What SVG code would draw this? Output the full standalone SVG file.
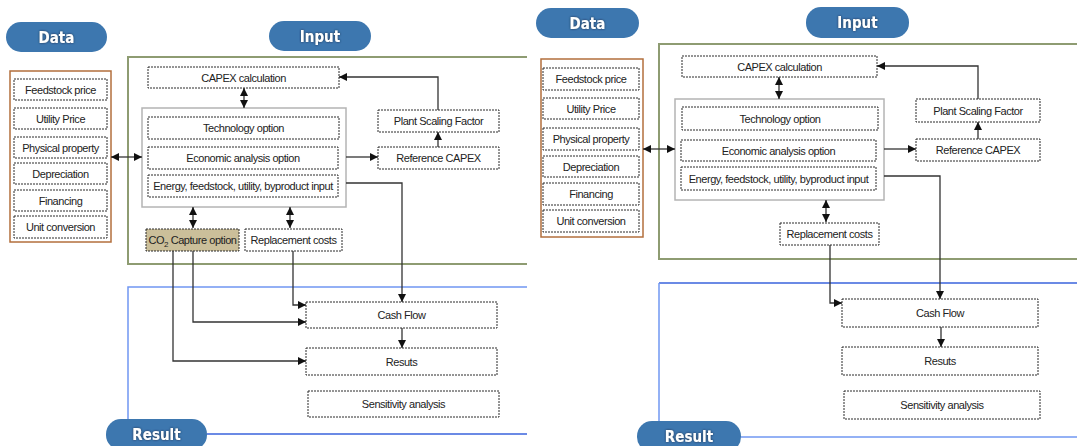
<svg xmlns="http://www.w3.org/2000/svg" width="1077" height="446" viewBox="0 0 1077 446">
<defs>
<marker id="ah" markerUnits="userSpaceOnUse" markerWidth="8" markerHeight="8" refX="8" refY="4" orient="auto-start-reverse" viewBox="0 0 8 8">
<path d="M0,0 L8,4 L0,8 z" fill="#111"/>
</marker>
<filter id="ts" x="-20%" y="-30%" width="140%" height="160%">
<feDropShadow dx="0" dy="0" stdDeviation="0.8" flood-color="#1a2a40" flood-opacity="0.9"/>
</filter>
</defs>
<style>
.pill{fill:#3d77af;}
.ptxt{font-family:"DejaVu Sans Condensed","DejaVu Sans","Liberation Sans",sans-serif;font-weight:bold;font-size:15px;fill:#fff;text-anchor:middle;}
.box{fill:#fff;stroke:#2a2a2a;stroke-width:1;stroke-dasharray:2 1;}
.co2{fill:#cbbf9a;stroke:#2a2a2a;stroke-width:1;stroke-dasharray:2 1;}
.inner{fill:#fff;stroke:#b4b4b4;stroke-width:1.5;}
.orange{fill:#fff;stroke:#b36f3c;stroke-width:1.5;}
.green{fill:none;stroke:#8e9c72;stroke-width:2;}
.blue1{fill:none;stroke:#7097f2;stroke-width:1.5;}
.blue2{fill:none;stroke:#3a63dc;stroke-width:1.5;}
.t{font-family:"Liberation Sans",Arial,sans-serif;font-size:11px;fill:#222;text-anchor:middle;letter-spacing:-0.45px;}
.c{fill:none;stroke:#333;stroke-width:1.3;}
.ca{fill:none;stroke:#333;stroke-width:1.3;marker-end:url(#ah);}
.cd{fill:none;stroke:#333;stroke-width:1.3;marker-start:url(#ah);marker-end:url(#ah);}
</style>
<rect width="1077" height="446" fill="#fff"/>

<!-- ===== LEFT PANEL ===== -->
<g id="L-frames">
<path class="green" d="M527,57 H128 V264 H527"/>
<path class="blue1" d="M527,287 H128 V419"/>
<path class="blue2" d="M207,434 H527"/>
</g>
<g id="L-pill-data"><rect class="pill" x="6" y="22" width="101" height="30" rx="15"/><text class="ptxt" x="56.5" y="42.5" filter="url(#ts)">Data</text></g>
<g id="L-pill-input"><rect class="pill" x="269" y="21" width="102" height="30" rx="15"/><text class="ptxt" x="320" y="41.5" filter="url(#ts)">Input</text></g>
<g id="L-pill-result"><rect class="pill" x="106" y="419" width="101" height="31" rx="15"/><text class="ptxt" x="156.5" y="440" filter="url(#ts)">Result</text></g>

<g id="L-data">
<rect class="orange" x="10" y="71" width="101" height="171"/>
<g id="L-feed"><rect class="box" x="14" y="79" width="93" height="21"/><text class="t" x="60.5" y="93.5">Feedstock price</text></g>
<g id="L-util"><rect class="box" x="14" y="108" width="93" height="21"/><text class="t" x="60.5" y="122.5">Utility Price</text></g>
<g id="L-phys"><rect class="box" x="14" y="137" width="93" height="21"/><text class="t" x="60.5" y="151.5">Physical property</text></g>
<g id="L-depr"><rect class="box" x="14" y="163" width="93" height="21"/><text class="t" x="60.5" y="177.5">Depreciation</text></g>
<g id="L-fin"><rect class="box" x="14" y="190" width="93" height="21"/><text class="t" x="60.5" y="204.5">Financing</text></g>
<g id="L-unit"><rect class="box" x="14" y="216" width="93" height="22"/><text class="t" x="60.5" y="231">Unit conversion</text></g>
</g>

<g id="L-capex"><rect class="box" x="148" y="67" width="191" height="21"/><text class="t" x="243.5" y="81.5">CAPEX calculation</text></g>
<g id="L-options">
<rect class="inner" x="142" y="108" width="204" height="99"/>
<g id="L-tech"><rect class="box" x="148" y="117" width="191" height="22"/><text class="t" x="243.5" y="132">Technology option</text></g>
<g id="L-econ"><rect class="box" x="148" y="147" width="190" height="22"/><text class="t" x="243" y="162">Economic analysis option</text></g>
<g id="L-energy"><rect class="box" x="148" y="175" width="190" height="22"/><text class="t" x="243" y="190">Energy, feedstock, utility, byproduct  input</text></g>
</g>
<g id="L-psf"><rect class="box" x="378" y="110" width="121" height="22"/><text class="t" x="438.5" y="125">Plant Scaling Factor</text></g>
<g id="L-ref"><rect class="box" x="378" y="147" width="121" height="22"/><text class="t" x="438.5" y="162">Reference CAPEX</text></g>
<g id="L-co2"><rect class="co2" x="146" y="229" width="93" height="22"/><text class="t" x="192.5" y="244">CO<tspan font-size="8" dy="2.5">2</tspan><tspan dy="-2.5"> Capture option</tspan></text></g>
<g id="L-repl"><rect class="box" x="245" y="229" width="97" height="22"/><text class="t" x="293.5" y="244">Replacement costs</text></g>
<g id="L-cash"><rect class="box" x="306" y="302" width="191" height="26"/><text class="t" x="401.5" y="319">Cash Flow</text></g>
<g id="L-res"><rect class="box" x="306" y="348" width="191" height="27"/><text class="t" x="401.5" y="365.5">Resuts</text></g>
<g id="L-sens"><rect class="box" x="308" y="391" width="191" height="26"/><text class="t" x="403.5" y="408">Sensitivity analysis</text></g>

<g id="L-connectors">
<path class="cd" d="M111,157 H142"/>
<path class="cd" d="M244,88 V108"/>
<path class="ca" d="M346,157 H378"/>
<path class="ca" d="M438,147 V132"/>
<path class="ca" d="M438,110 V77 H339"/>
<path class="ca" d="M346,183 H402 V302"/>
<path class="cd" d="M193,207 V228"/>
<path class="cd" d="M290,207 V228"/>
<path class="ca" d="M293,251 V305 H306"/>
<path class="ca" d="M193,251 V322 H306"/>
<path class="ca" d="M173,251 V361 H306"/>
<path class="ca" d="M402,328 V348"/>
</g>

<!-- ===== RIGHT PANEL ===== -->
<g id="R-frames">
<path class="green" d="M1077,44 H659 V259 H1077"/>
<path class="blue2" d="M1077,283 H659"/>
<path class="blue1" d="M659,283 V421"/>
<path class="blue1" d="M741,437 H1077"/>
</g>
<g id="R-pill-data"><rect class="pill" x="536" y="8" width="103" height="30" rx="15"/><text class="ptxt" x="587.5" y="28.5" filter="url(#ts)">Data</text></g>
<g id="R-pill-input"><rect class="pill" x="806" y="7" width="103" height="31" rx="15"/><text class="ptxt" x="857.5" y="28" filter="url(#ts)">Input</text></g>
<g id="R-pill-result"><rect class="pill" x="637" y="421" width="104" height="31" rx="15"/><text class="ptxt" x="689" y="442" filter="url(#ts)">Result</text></g>

<g id="R-data">
<rect class="orange" x="541" y="59" width="102" height="178"/>
<g id="R-feed"><rect class="box" x="543" y="68" width="96" height="22"/><text class="t" x="591" y="83">Feedstock price</text></g>
<g id="R-util"><rect class="box" x="543" y="98" width="96" height="21"/><text class="t" x="591" y="112.5">Utility Price</text></g>
<g id="R-phys"><rect class="box" x="543" y="128" width="96" height="22"/><text class="t" x="591" y="143">Physical property</text></g>
<g id="R-depr"><rect class="box" x="543" y="156" width="96" height="21"/><text class="t" x="591" y="170.5">Depreciation</text></g>
<g id="R-fin"><rect class="box" x="543" y="183" width="96" height="22"/><text class="t" x="591" y="198">Financing</text></g>
<g id="R-unit"><rect class="box" x="543" y="210" width="96" height="22"/><text class="t" x="591" y="225">Unit conversion</text></g>
</g>

<g id="R-capex"><rect class="box" x="682" y="56" width="195" height="21"/><text class="t" x="779.5" y="70.5">CAPEX calculation</text></g>
<g id="R-options">
<rect class="inner" x="675" y="99" width="209" height="101"/>
<g id="R-tech"><rect class="box" x="682" y="107" width="196" height="23"/><text class="t" x="780" y="122.5">Technology option</text></g>
<g id="R-econ"><rect class="box" x="681" y="140" width="195" height="21"/><text class="t" x="778.5" y="154.5">Economic analysis option</text></g>
<g id="R-energy"><rect class="box" x="681" y="167" width="195" height="23"/><text class="t" x="778.5" y="182.5">Energy, feedstock, utility, byproduct  input</text></g>
</g>
<g id="R-psf"><rect class="box" x="916" y="99" width="124" height="23"/><text class="t" x="978" y="114.5">Plant Scaling Factor</text></g>
<g id="R-ref"><rect class="box" x="916" y="139" width="124" height="22"/><text class="t" x="978" y="154">Reference CAPEX</text></g>
<g id="R-repl"><rect class="box" x="780" y="223" width="99" height="22"/><text class="t" x="829.5" y="238">Replacement costs</text></g>
<g id="R-cash"><rect class="box" x="842" y="299" width="196" height="28"/><text class="t" x="940" y="317">Cash Flow</text></g>
<g id="R-res"><rect class="box" x="842" y="347" width="196" height="28"/><text class="t" x="940" y="365">Resuts</text></g>
<g id="R-sens"><rect class="box" x="844" y="391" width="196" height="28"/><text class="t" x="942" y="409">Sensitivity analysis</text></g>

<g id="R-connectors">
<path class="cd" d="M643,149 H675"/>
<path class="cd" d="M779,77 V99"/>
<path class="ca" d="M884,149 H916"/>
<path class="ca" d="M978,139 V122"/>
<path class="ca" d="M978,99 V66 H877"/>
<path class="ca" d="M884,176 H940 V299"/>
<path class="cd" d="M826,200 V222"/>
<path class="ca" d="M830,245 V303 H842"/>
<path class="ca" d="M941,327 V347"/>
</g>
</svg>
